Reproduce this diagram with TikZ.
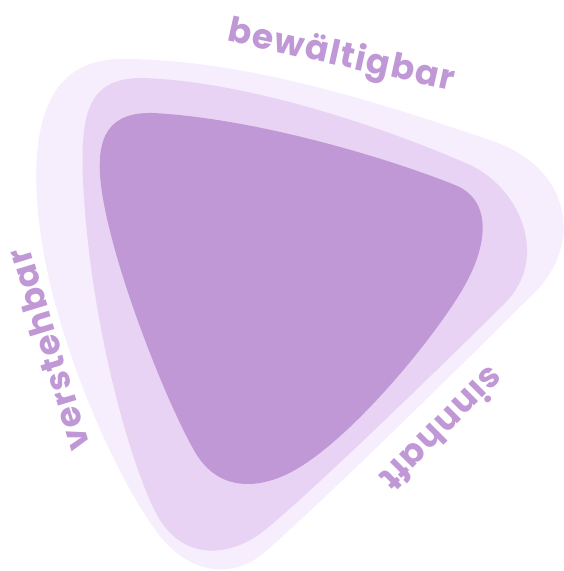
\documentclass[tikz,border=0pt]{standalone}
\usepackage{fontspec}
\newfontfamily\labfont{Poppins Bold}[LetterSpace=4]
\definecolor{outerc}{HTML}{F7EEFD}
\definecolor{midc}{HTML}{E8D3F4}
\definecolor{innerc}{HTML}{BF98D5}
\definecolor{textc}{HTML}{BF98D5}
\tikzset{
  lab/.style={text=textc, font=\labfont\fontsize{34.5}{38}\selectfont, inner sep=0pt}
}
\begin{document}
\begin{tikzpicture}[x=1pt,y=-1pt]
\useasboundingbox (0,0) rectangle (563,571);
% outer layer
\fill[outerc] (120,59) .. controls (250,58) and (400,110) .. (490,140)
  .. controls (575,168) and (585,250) .. (527,300)
  .. controls (480,347) and (330,495) .. (265,552)
  .. controls (235,578) and (195,575) .. (165,542)
  .. controls (125,498) and (45,330) .. (37,200)
  .. controls (32,120) and (50,60) .. (120,59) -- cycle;
% middle layer
\fill[midc] (140,78) .. controls (240,80) and (380,125) .. (470,165)
  .. controls (520,188) and (550,258) .. (505,303)
  .. controls (470,338) and (320,485) .. (265,530)
  .. controls (230,558) and (185,560) .. (160,520)
  .. controls (135,480) and (90,330) .. (83,180)
  .. controls (80,110) and (90,79) .. (140,78) -- cycle;
% inner layer
\fill[innerc] (153,113) .. controls (250,118) and (380,155) .. (455,185)
  .. controls (490,199) and (490,240) .. (465,285)
  .. controls (440,330) and (360,430) .. (300,467)
  .. controls (265,489) and (220,495) .. (195,452)
  .. controls (165,400) and (110,260) .. (101,185)
  .. controls (95,135) and (110,112) .. (153,113) -- cycle;
\node[lab, rotate=-12.5] (b) at (341,57) {bewältigbar};
\node[lab, rotate=107] (v) at (48,350) {verstehbar};
\node[lab, rotate=225] (s) at (443,430) {sinnhaft};
\end{tikzpicture}
\end{document}
